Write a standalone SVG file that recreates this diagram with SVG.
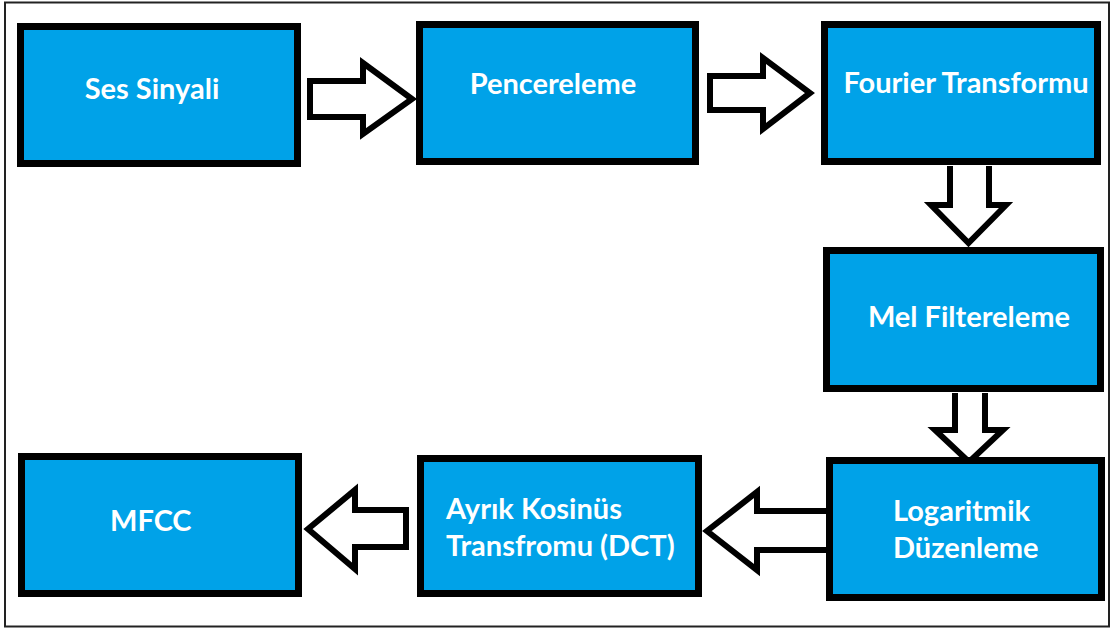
<svg xmlns="http://www.w3.org/2000/svg" width="1115" height="630" viewBox="0 0 1115 630">
  <style>
    .box { fill: #00A2E8; stroke: #000000; stroke-width: 7; }
    .lbl { font-family: Lato, "Open Sans", "Liberation Sans", sans-serif; font-weight: 700; font-size: 29px; fill: #ffffff; }
    .arrow { fill: #ffffff; stroke: #000000; stroke-width: 6; stroke-linejoin: miter; stroke-miterlimit: 10; }
  </style>
  <rect width="1115" height="630" fill="#ffffff"/>
  <!-- outer frame -->
  <rect x="5" y="2.5" width="1104" height="624" fill="none" stroke="#222222" stroke-width="2"/>

  <!-- block arrows between stages -->
  <g id="connectors">
    <path class="arrow" d="M310,81 H363 V63 L412,99 L363,134 V117 H310 Z"/>
    <path class="arrow" d="M710,76 H763 V58 L810,93 L763,129 V110 H710 Z"/>
    <path class="arrow" d="M950,166 V205 H931 L968.5,243 L1006,205 H989 V166"/>
    <path class="arrow" d="M955,393 V430 H935 L969,462 L1003,430 H985 V393"/>
    <path class="arrow" d="M826,511 H757 V492 L707,531 L757,570 V550 H826"/>
    <path class="arrow" d="M406,510 H355 V490 L308,529 L355,569 V547 H406 Z"/>
  </g>

  <g id="ses-sinyali">
    <rect class="box" x="20.5" y="26.5" width="277" height="137"/>
    <text class="lbl" x="152" y="99" text-anchor="middle">Ses Sinyali</text>
  </g>
  <g id="pencereleme">
    <rect class="box" x="419.5" y="24.5" width="276" height="137"/>
    <text class="lbl" x="553" y="94" text-anchor="middle">Pencereleme</text>
  </g>
  <g id="fourier">
    <rect class="box" x="824.5" y="24.5" width="273" height="137"/>
    <text class="lbl" x="966" y="93" text-anchor="middle">Fourier Transformu</text>
  </g>
  <g id="mel">
    <rect class="box" x="826.5" y="250.5" width="274" height="138"/>
    <text class="lbl" x="969" y="327" text-anchor="middle">Mel Filtereleme</text>
  </g>
  <g id="logaritmik">
    <rect class="box" x="829.5" y="460.5" width="272" height="137"/>
    <text class="lbl" x="893" y="521">Logaritmik</text>
    <text class="lbl" x="893" y="558">Düzenleme</text>
  </g>
  <g id="dct">
    <rect class="box" x="420.5" y="458.5" width="278" height="135"/>
    <text class="lbl" x="446" y="519">Ayrık Kosinüs</text>
    <text class="lbl" x="446" y="556">Transfromu (DCT)</text>
  </g>
  <g id="mfcc">
    <rect class="box" x="21.5" y="456.5" width="277" height="137"/>
    <text class="lbl" x="110" y="531">MFCC</text>
  </g>
</svg>
